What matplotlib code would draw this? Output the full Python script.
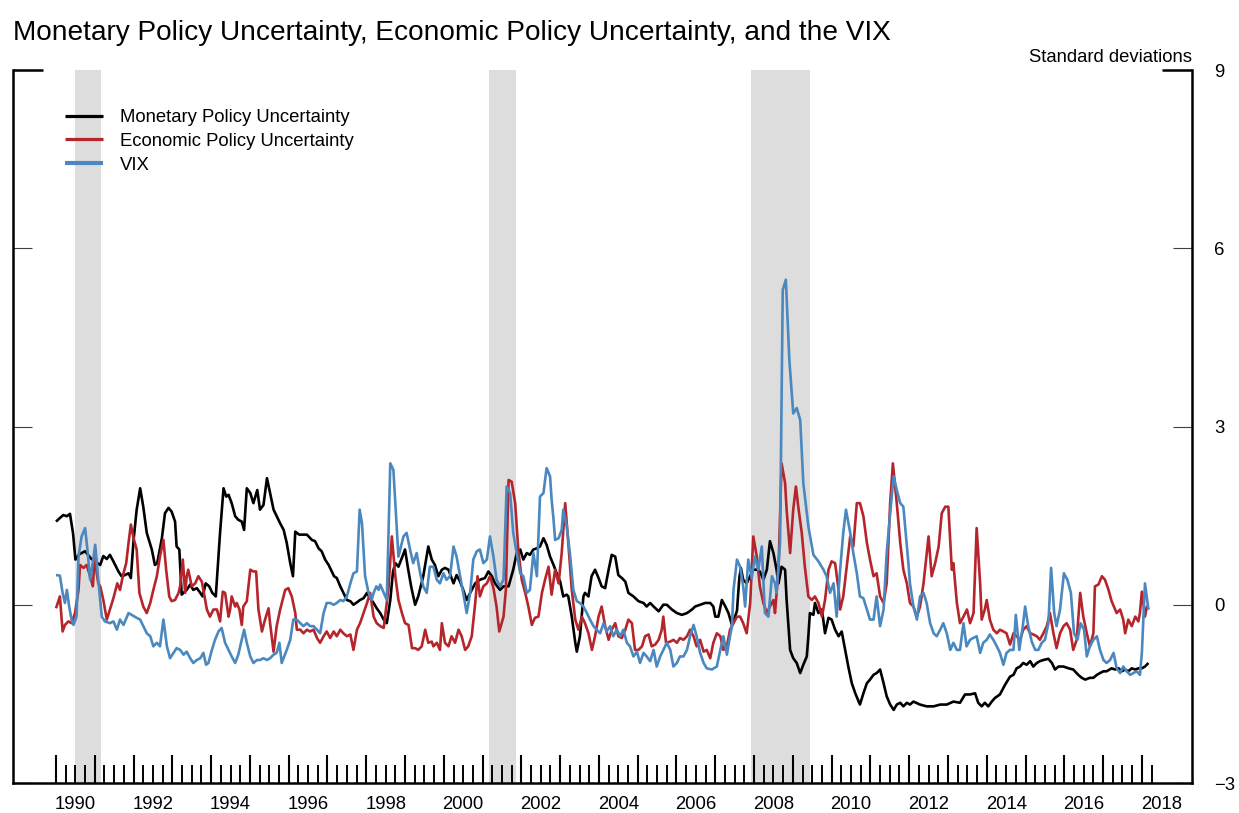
import matplotlib
matplotlib.use("Agg")
import matplotlib.pyplot as plt
import numpy as np

plt.rcParams['font.family'] = ['Liberation Sans', 'DejaVu Sans']

# ---------------- data ----------------
title = "Monetary Policy Uncertainty, Economic Policy Uncertainty, and the VIX"
unit_label = "Standard deviations"
series_names = ["Monetary Policy Uncertainty", "Economic Policy Uncertainty", "VIX"]
series_colors = ["#000000", "#b5252b", "#4a88bf"]
recessions = [(1990.50, 1991.17), (2001.17, 2001.86), (2007.92, 2009.44)]
year_labels = [1990, 1992, 1994, 1996, 1998, 2000, 2002, 2004, 2006, 2008,
               2010, 2012, 2014, 2016, 2018]
y_ticks = [-3, 0, 3, 6, 9]
y_tick_labels = ["\u22123", "0", "3", "6", "9"]

# (decimal year, standard deviations)
mpu = [
    (1990.00, 1.40), (1990.10, 1.46), (1990.19, 1.51), (1990.28, 1.49), (1990.36, 1.53),
    (1990.44, 1.20), (1990.50, 0.76), (1990.60, 0.85), (1990.75, 0.90), (1990.90, 0.78),
    (1991.02, 0.72), (1991.14, 0.67), (1991.22, 0.82), (1991.31, 0.77), (1991.39, 0.84),
    (1991.48, 0.73), (1991.61, 0.56), (1991.69, 0.48), (1991.78, 0.50), (1991.87, 0.53),
    (1991.93, 0.45), (1992.00, 1.09), (1992.08, 1.60), (1992.17, 1.96), (1992.25, 1.65),
    (1992.34, 1.21), (1992.47, 0.93), (1992.55, 0.67), (1992.61, 0.70), (1992.73, 1.12),
    (1992.81, 1.54), (1992.90, 1.63), (1992.98, 1.57), (1993.07, 1.40), (1993.11, 0.98),
    (1993.18, 0.93), (1993.24, 0.17), (1993.29, 0.20), (1993.37, 0.25), (1993.46, 0.34),
    (1993.54, 0.25), (1993.63, 0.28), (1993.72, 0.20), (1993.78, 0.14), (1993.86, 0.36),
    (1993.95, 0.31), (1994.03, 0.20), (1994.12, 0.14), (1994.23, 1.21), (1994.32, 1.96),
    (1994.39, 1.82), (1994.45, 1.85), (1994.53, 1.71), (1994.62, 1.49), (1994.70, 1.43),
    (1994.79, 1.40), (1994.85, 1.26), (1994.92, 1.96), (1995.01, 1.88), (1995.09, 1.71),
    (1995.19, 1.93), (1995.26, 1.60), (1995.35, 1.68), (1995.44, 2.13), (1995.52, 1.88),
    (1995.61, 1.60), (1995.69, 1.49), (1995.78, 1.37), (1995.87, 1.26), (1995.95, 1.04),
    (1996.04, 0.70), (1996.11, 0.48), (1996.17, 1.23), (1996.27, 1.18), (1996.38, 1.18),
    (1996.47, 1.18), (1996.60, 1.09), (1996.68, 1.07), (1996.77, 0.95), (1996.85, 0.90),
    (1996.94, 0.76), (1997.03, 0.67), (1997.11, 0.56), (1997.17, 0.48), (1997.24, 0.45),
    (1997.33, 0.31), (1997.41, 0.20), (1997.50, 0.08), (1997.59, 0.06), (1997.67, 0.00),
    (1997.76, 0.04), (1997.84, 0.08), (1997.93, 0.11), (1998.02, 0.20), (1998.10, 0.11),
    (1998.19, 0.03), (1998.27, -0.06), (1998.36, -0.14), (1998.45, -0.25), (1998.53, -0.31),
    (1998.62, 0.08), (1998.69, 0.56), (1998.75, 0.70), (1998.83, 0.64), (1998.92, 0.79),
    (1999.00, 0.93), (1999.08, 0.60), (1999.16, 0.30), (1999.26, 0.00), (1999.34, 0.14),
    (1999.47, 0.48), (1999.60, 0.98), (1999.69, 0.76), (1999.77, 0.67), (1999.86, 0.48),
    (1999.95, 0.59), (2000.03, 0.62), (2000.12, 0.59), (2000.25, 0.36), (2000.33, 0.50),
    (2000.42, 0.39), (2000.50, 0.25), (2000.59, 0.08), (2000.68, 0.20), (2000.81, 0.36),
    (2000.93, 0.42), (2001.06, 0.45), (2001.15, 0.56), (2001.24, 0.48), (2001.32, 0.36),
    (2001.45, 0.25), (2001.54, 0.31), (2001.67, 0.31), (2001.79, 0.59), (2001.88, 0.87),
    (2001.97, 0.93), (2002.05, 0.76), (2002.14, 0.87), (2002.22, 0.84), (2002.31, 0.93),
    (2002.40, 0.95), (2002.48, 0.98), (2002.57, 1.12), (2002.65, 1.01), (2002.74, 0.81),
    (2002.83, 0.67), (2002.91, 0.53), (2003.00, 0.39), (2003.08, 0.14), (2003.17, 0.17),
    (2003.21, 0.14), (2003.30, -0.20), (2003.39, -0.64), (2003.43, -0.79), (2003.51, -0.53),
    (2003.60, 0.14), (2003.64, 0.20), (2003.73, 0.14), (2003.81, 0.48), (2003.90, 0.59),
    (2003.99, 0.45), (2004.07, 0.31), (2004.16, 0.28), (2004.25, 0.59), (2004.33, 0.84),
    (2004.42, 0.81), (2004.50, 0.50), (2004.59, 0.45), (2004.68, 0.39), (2004.76, 0.20),
    (2004.89, 0.14), (2005.02, 0.06), (2005.15, 0.03), (2005.23, -0.03), (2005.32, 0.03),
    (2005.41, -0.03), (2005.54, -0.11), (2005.66, 0.00), (2005.75, 0.00), (2005.88, -0.08),
    (2006.01, -0.14), (2006.14, -0.17), (2006.27, -0.14), (2006.40, -0.08), (2006.48, -0.03),
    (2006.61, 0.00), (2006.74, 0.03), (2006.87, 0.03), (2006.95, -0.03), (2007.00, -0.20),
    (2007.08, -0.20), (2007.17, 0.08), (2007.26, -0.03), (2007.34, -0.14), (2007.43, -0.34),
    (2007.51, -0.20), (2007.56, -0.10), (2007.62, 0.45), (2007.66, 0.62), (2007.72, 0.42),
    (2007.81, 0.36), (2007.90, 0.48), (2007.98, 0.59), (2008.07, 0.59), (2008.15, 0.56),
    (2008.24, 0.42), (2008.33, 0.59), (2008.41, 1.07), (2008.50, 0.87), (2008.58, 0.59),
    (2008.63, 0.36), (2008.71, 0.64), (2008.80, 0.59), (2008.84, 0.08), (2008.93, -0.76),
    (2009.01, -0.90), (2009.10, -0.98), (2009.19, -1.15), (2009.27, -1.01), (2009.36, -0.87),
    (2009.40, -0.53), (2009.44, -0.14), (2009.53, -0.17), (2009.57, 0.03), (2009.66, -0.14),
    (2009.75, -0.08), (2009.83, -0.48), (2009.92, -0.22), (2010.00, -0.25), (2010.09, -0.42),
    (2010.18, -0.53), (2010.26, -0.45), (2010.35, -0.76), (2010.43, -1.04), (2010.52, -1.32),
    (2010.61, -1.49), (2010.73, -1.68), (2010.82, -1.49), (2010.91, -1.32), (2010.99, -1.26),
    (2011.08, -1.18), (2011.16, -1.15), (2011.25, -1.09), (2011.34, -1.32), (2011.42, -1.54),
    (2011.51, -1.68), (2011.60, -1.77), (2011.68, -1.68), (2011.77, -1.65), (2011.85, -1.71),
    (2011.94, -1.65), (2012.02, -1.68), (2012.11, -1.63), (2012.28, -1.68), (2012.45, -1.71),
    (2012.63, -1.71), (2012.80, -1.68), (2012.97, -1.68), (2013.14, -1.63), (2013.31, -1.65),
    (2013.44, -1.51), (2013.57, -1.51), (2013.70, -1.49), (2013.78, -1.65), (2013.87, -1.71),
    (2013.95, -1.65), (2014.04, -1.71), (2014.13, -1.63), (2014.21, -1.57), (2014.34, -1.51),
    (2014.47, -1.35), (2014.60, -1.21), (2014.69, -1.18), (2014.77, -1.07), (2014.86, -1.04),
    (2014.94, -0.98), (2015.03, -1.01), (2015.12, -0.95), (2015.20, -1.04), (2015.29, -0.98),
    (2015.37, -0.95), (2015.46, -0.93), (2015.59, -0.91), (2015.68, -0.98), (2015.76, -1.09),
    (2015.85, -1.04), (2015.98, -1.04), (2016.11, -1.07), (2016.23, -1.09), (2016.36, -1.18),
    (2016.45, -1.23), (2016.54, -1.26), (2016.66, -1.23), (2016.75, -1.23), (2016.84, -1.18),
    (2016.92, -1.15), (2017.01, -1.12), (2017.09, -1.12), (2017.22, -1.07), (2017.31, -1.09),
    (2017.40, -1.07), (2017.48, -1.12), (2017.57, -1.09), (2017.65, -1.12), (2017.74, -1.07),
    (2017.83, -1.09), (2017.91, -1.07), (2018.00, -1.07), (2018.08, -1.04), (2018.17, -0.98),
]

epu = [
    (1990.00, -0.06), (1990.06, 0.06), (1990.10, 0.14), (1990.17, -0.45), (1990.23, -0.34),
    (1990.32, -0.28), (1990.40, -0.31), (1990.49, -0.14), (1990.58, 0.25), (1990.62, 0.67),
    (1990.71, 0.62), (1990.79, 0.67), (1990.88, 0.48), (1990.95, 0.31), (1991.01, 0.93),
    (1991.05, 0.53), (1991.09, 0.36), (1991.14, 0.31), (1991.22, 0.08), (1991.31, -0.25),
    (1991.39, -0.08), (1991.48, 0.11), (1991.58, 0.36), (1991.65, 0.25), (1991.74, 0.53),
    (1991.81, 0.70), (1991.87, 1.04), (1991.93, 1.35), (1992.00, 1.12), (1992.08, 0.93),
    (1992.15, 0.20), (1992.25, -0.03), (1992.34, -0.14), (1992.43, 0.03), (1992.51, 0.25),
    (1992.60, 0.48), (1992.68, 0.81), (1992.77, 1.09), (1992.84, 0.59), (1992.92, 0.14),
    (1992.98, 0.06), (1993.07, 0.08), (1993.16, 0.20), (1993.20, 0.31), (1993.27, 0.76),
    (1993.33, 0.20), (1993.37, 0.48), (1993.41, 0.59), (1993.50, 0.31), (1993.59, 0.36),
    (1993.67, 0.48), (1993.76, 0.39), (1993.80, 0.25), (1993.89, -0.08), (1993.97, -0.20),
    (1994.06, -0.08), (1994.15, -0.08), (1994.23, -0.28), (1994.30, 0.22), (1994.36, 0.20),
    (1994.45, -0.20), (1994.49, -0.08), (1994.53, 0.14), (1994.62, -0.03), (1994.66, 0.03),
    (1994.73, -0.08), (1994.79, -0.34), (1994.83, -0.03), (1994.92, 0.06), (1995.01, 0.59),
    (1995.09, 0.56), (1995.16, 0.56), (1995.22, -0.08), (1995.31, -0.45), (1995.39, -0.25),
    (1995.48, -0.06), (1995.52, -0.31), (1995.61, -0.79), (1995.69, -0.36), (1995.78, -0.08),
    (1995.91, 0.25), (1995.99, 0.28), (1996.08, 0.14), (1996.17, -0.14), (1996.21, -0.42),
    (1996.30, -0.42), (1996.38, -0.48), (1996.47, -0.42), (1996.55, -0.45), (1996.64, -0.42),
    (1996.73, -0.56), (1996.81, -0.64), (1996.90, -0.53), (1996.98, -0.45), (1997.07, -0.56),
    (1997.16, -0.45), (1997.24, -0.53), (1997.33, -0.42), (1997.41, -0.48), (1997.50, -0.53),
    (1997.59, -0.50), (1997.67, -0.76), (1997.76, -0.42), (1997.84, -0.31), (1997.93, -0.14),
    (1998.02, 0.03), (1998.10, 0.20), (1998.19, -0.20), (1998.27, -0.31), (1998.36, -0.36),
    (1998.45, -0.39), (1998.57, 0.25), (1998.66, 1.15), (1998.75, 0.48), (1998.83, 0.08),
    (1998.92, -0.14), (1999.00, -0.31), (1999.09, -0.34), (1999.18, -0.73), (1999.26, -0.73),
    (1999.34, -0.76), (1999.43, -0.70), (1999.52, -0.42), (1999.60, -0.64), (1999.69, -0.62),
    (1999.73, -0.70), (1999.82, -0.64), (1999.90, -0.76), (1999.95, -0.31), (2000.03, -0.64),
    (2000.12, -0.70), (2000.20, -0.53), (2000.29, -0.64), (2000.38, -0.42), (2000.46, -0.53),
    (2000.55, -0.76), (2000.63, -0.70), (2000.72, -0.53), (2000.81, 0.03), (2000.87, 0.48),
    (2000.93, 0.14), (2001.02, 0.31), (2001.11, 0.36), (2001.19, 0.48), (2001.28, 0.28),
    (2001.36, -0.03), (2001.43, -0.45), (2001.54, -0.20), (2001.60, 0.25), (2001.67, 2.10),
    (2001.75, 2.07), (2001.84, 1.71), (2001.92, 0.93), (2002.01, 0.42), (2002.10, 0.20),
    (2002.18, -0.03), (2002.27, -0.34), (2002.35, -0.22), (2002.44, -0.20), (2002.53, 0.20),
    (2002.61, 0.42), (2002.70, 0.64), (2002.78, 0.17), (2002.87, 0.59), (2002.96, 0.36),
    (2003.04, 0.87), (2003.13, 1.71), (2003.21, 1.04), (2003.30, 0.25), (2003.39, -0.25),
    (2003.47, -0.42), (2003.56, -0.20), (2003.64, -0.31), (2003.73, -0.48), (2003.82, -0.76),
    (2003.90, -0.53), (2003.99, -0.20), (2004.07, -0.03), (2004.16, -0.36), (2004.25, -0.59),
    (2004.33, -0.42), (2004.42, -0.31), (2004.50, -0.53), (2004.59, -0.56), (2004.68, -0.42),
    (2004.76, -0.25), (2004.85, -0.31), (2004.93, -0.76), (2005.02, -0.76), (2005.11, -0.70),
    (2005.19, -0.53), (2005.28, -0.50), (2005.36, -0.70), (2005.45, -0.67), (2005.54, -0.59),
    (2005.62, -0.42), (2005.66, -0.20), (2005.73, -0.64), (2005.84, -0.62), (2005.92, -0.59),
    (2006.01, -0.64), (2006.09, -0.56), (2006.18, -0.59), (2006.27, -0.53), (2006.35, -0.42),
    (2006.44, -0.53), (2006.52, -0.70), (2006.61, -0.59), (2006.70, -0.79), (2006.78, -0.76),
    (2006.87, -0.90), (2006.95, -0.64), (2007.04, -0.48), (2007.13, -0.53), (2007.21, -0.76),
    (2007.30, -0.70), (2007.38, -0.42), (2007.47, -0.31), (2007.56, -0.20), (2007.64, -0.20),
    (2007.72, -0.31), (2007.81, -0.48), (2007.90, 0.03), (2007.98, 1.15), (2008.07, 0.81),
    (2008.15, 0.31), (2008.24, 0.03), (2008.33, -0.14), (2008.41, -0.03), (2008.50, 0.08),
    (2008.54, -0.14), (2008.63, 0.59), (2008.71, 2.38), (2008.80, 2.05), (2008.84, 1.60),
    (2008.93, 0.87), (2009.01, 1.60), (2009.08, 1.99), (2009.14, 1.65), (2009.23, 1.21),
    (2009.31, 0.64), (2009.40, 0.14), (2009.49, 0.08), (2009.57, 0.14), (2009.66, 0.03),
    (2009.75, -0.20), (2009.83, 0.08), (2009.92, 0.59), (2010.00, 0.73), (2010.09, 0.70),
    (2010.18, 0.25), (2010.22, -0.08), (2010.30, 0.14), (2010.39, 0.64), (2010.48, 1.15),
    (2010.56, 0.98), (2010.65, 1.71), (2010.73, 1.71), (2010.82, 1.49), (2010.91, 1.04),
    (2010.99, 0.76), (2011.08, 0.48), (2011.16, 0.53), (2011.25, 0.14), (2011.34, 0.03),
    (2011.42, 0.36), (2011.51, 1.71), (2011.58, 2.38), (2011.68, 1.71), (2011.77, 1.04),
    (2011.85, 0.59), (2011.94, 0.36), (2012.02, 0.03), (2012.11, -0.03), (2012.20, -0.20),
    (2012.28, -0.03), (2012.37, 0.36), (2012.50, 1.15), (2012.58, 0.48), (2012.67, 0.70),
    (2012.76, 0.98), (2012.84, 1.54), (2012.93, 1.65), (2013.01, 1.65), (2013.10, 0.59),
    (2013.14, 0.70), (2013.23, 0.03), (2013.31, -0.31), (2013.40, -0.20), (2013.49, -0.08),
    (2013.57, -0.31), (2013.66, -0.14), (2013.74, 1.29), (2013.83, 0.36), (2013.87, -0.25),
    (2013.95, -0.08), (2014.00, 0.08), (2014.08, -0.25), (2014.17, -0.42), (2014.26, -0.48),
    (2014.34, -0.42), (2014.43, -0.45), (2014.51, -0.48), (2014.60, -0.67), (2014.69, -0.48),
    (2014.77, -0.53), (2014.86, -0.59), (2014.94, -0.42), (2015.03, -0.36), (2015.12, -0.48),
    (2015.20, -0.50), (2015.29, -0.53), (2015.37, -0.59), (2015.46, -0.48), (2015.55, -0.36),
    (2015.63, -0.14), (2015.72, -0.48), (2015.80, -0.73), (2015.89, -0.48), (2015.98, -0.36),
    (2016.06, -0.31), (2016.15, -0.42), (2016.23, -0.76), (2016.32, -0.59), (2016.41, 0.20),
    (2016.49, -0.20), (2016.58, -0.48), (2016.66, -0.70), (2016.75, -0.48), (2016.79, 0.31),
    (2016.88, 0.34), (2016.97, 0.48), (2017.05, 0.42), (2017.14, 0.25), (2017.22, 0.06),
    (2017.35, -0.14), (2017.44, -0.08), (2017.52, -0.25), (2017.57, -0.48), (2017.65, -0.25),
    (2017.74, -0.36), (2017.83, -0.20), (2017.91, -0.28), (2017.95, -0.14), (2018.00, 0.22),
    (2018.08, -0.20), (2018.13, -0.03), (2018.17, -0.08),
]

vix = [
    (1990.00, 0.50), (1990.10, 0.49), (1990.17, 0.20), (1990.23, 0.03), (1990.28, 0.25),
    (1990.34, -0.03), (1990.40, -0.25), (1990.45, -0.34), (1990.53, -0.20), (1990.58, 0.81),
    (1990.66, 1.15), (1990.75, 1.29), (1990.81, 0.93), (1990.88, 0.42), (1990.96, 0.76),
    (1991.01, 1.01), (1991.09, 0.42), (1991.18, -0.20), (1991.26, -0.28), (1991.39, -0.31),
    (1991.48, -0.28), (1991.57, -0.42), (1991.65, -0.25), (1991.74, -0.34), (1991.87, -0.14),
    (1991.95, -0.17), (1992.08, -0.22), (1992.17, -0.25), (1992.25, -0.36), (1992.34, -0.48),
    (1992.43, -0.53), (1992.51, -0.70), (1992.60, -0.64), (1992.68, -0.70), (1992.77, -0.25),
    (1992.86, -0.70), (1992.94, -0.90), (1993.03, -0.81), (1993.11, -0.73), (1993.20, -0.76),
    (1993.29, -0.84), (1993.37, -0.79), (1993.46, -0.90), (1993.54, -0.98), (1993.63, -0.93),
    (1993.72, -0.90), (1993.80, -0.81), (1993.87, -1.01), (1993.93, -0.98), (1994.02, -0.76),
    (1994.10, -0.59), (1994.19, -0.45), (1994.27, -0.39), (1994.36, -0.64), (1994.45, -0.76),
    (1994.53, -0.87), (1994.62, -0.98), (1994.70, -0.84), (1994.79, -0.59), (1994.85, -0.42),
    (1994.92, -0.64), (1995.01, -0.87), (1995.09, -0.98), (1995.18, -0.93), (1995.26, -0.93),
    (1995.35, -0.90), (1995.44, -0.93), (1995.52, -0.90), (1995.61, -0.84), (1995.69, -0.81),
    (1995.76, -0.64), (1995.82, -0.98), (1995.95, -0.76), (1996.04, -0.59), (1996.12, -0.25),
    (1996.21, -0.25), (1996.30, -0.31), (1996.38, -0.36), (1996.47, -0.31), (1996.55, -0.36),
    (1996.64, -0.36), (1996.73, -0.42), (1996.81, -0.48), (1996.90, -0.14), (1996.98, 0.03),
    (1997.07, 0.03), (1997.16, 0.00), (1997.24, 0.03), (1997.33, 0.08), (1997.41, 0.06),
    (1997.50, 0.14), (1997.59, 0.36), (1997.67, 0.53), (1997.76, 0.56), (1997.83, 1.60),
    (1997.89, 1.37), (1997.97, 0.48), (1998.06, 0.20), (1998.14, 0.08), (1998.19, 0.20),
    (1998.26, 0.31), (1998.32, 0.25), (1998.36, 0.34), (1998.45, 0.20), (1998.53, 0.08),
    (1998.62, 2.38), (1998.70, 2.27), (1998.77, 1.49), (1998.83, 0.81), (1998.96, 1.15),
    (1999.04, 1.21), (1999.13, 0.93), (1999.21, 0.70), (1999.30, 0.87), (1999.39, 0.53),
    (1999.47, 0.31), (1999.56, 0.20), (1999.64, 0.64), (1999.73, 0.64), (1999.82, 0.42),
    (1999.90, 0.36), (1999.99, 0.53), (2000.07, 0.42), (2000.16, 0.48), (2000.25, 0.98),
    (2000.33, 0.81), (2000.42, 0.48), (2000.50, 0.20), (2000.59, -0.14), (2000.68, 0.20),
    (2000.76, 0.76), (2000.85, 0.90), (2000.93, 0.93), (2001.02, 0.70), (2001.11, 0.76),
    (2001.19, 1.15), (2001.28, 0.81), (2001.36, 0.42), (2001.45, 0.31), (2001.54, 0.42),
    (2001.62, 1.99), (2001.71, 1.88), (2001.79, 1.21), (2001.88, 0.87), (2001.97, 0.53),
    (2002.05, 0.48), (2002.14, 0.20), (2002.22, 0.25), (2002.31, 0.87), (2002.40, 0.48),
    (2002.48, 1.82), (2002.57, 1.88), (2002.65, 2.30), (2002.74, 2.16), (2002.78, 1.77),
    (2002.83, 1.43), (2002.87, 1.09), (2002.96, 1.12), (2003.04, 1.26), (2003.08, 1.60),
    (2003.17, 1.32), (2003.26, 0.81), (2003.34, 0.25), (2003.43, 0.06), (2003.51, 0.03),
    (2003.60, -0.03), (2003.69, -0.14), (2003.77, -0.25), (2003.86, -0.36), (2003.94, -0.42),
    (2004.03, -0.48), (2004.12, -0.31), (2004.20, -0.45), (2004.29, -0.36), (2004.37, -0.53),
    (2004.46, -0.42), (2004.55, -0.53), (2004.63, -0.42), (2004.72, -0.64), (2004.80, -0.70),
    (2004.89, -0.87), (2004.98, -0.79), (2005.06, -0.98), (2005.15, -0.81), (2005.23, -0.87),
    (2005.32, -0.95), (2005.41, -0.76), (2005.49, -1.04), (2005.58, -0.87), (2005.66, -0.76),
    (2005.75, -0.64), (2005.84, -0.76), (2005.92, -1.04), (2006.01, -0.98), (2006.09, -0.87),
    (2006.18, -0.87), (2006.27, -0.76), (2006.35, -0.53), (2006.44, -0.34), (2006.52, -0.53),
    (2006.61, -0.81), (2006.70, -0.98), (2006.78, -1.07), (2006.91, -1.09), (2007.04, -1.04),
    (2007.13, -0.76), (2007.21, -0.53), (2007.30, -0.84), (2007.38, -0.53), (2007.43, -0.36),
    (2007.47, 0.25), (2007.56, 0.76), (2007.64, 0.64), (2007.72, 0.31), (2007.77, -0.03),
    (2007.85, 0.76), (2007.94, 0.45), (2008.02, 0.81), (2008.11, 0.59), (2008.20, 0.98),
    (2008.28, -0.14), (2008.37, -0.20), (2008.46, 0.48), (2008.54, 0.36), (2008.58, 0.20),
    (2008.67, 1.04), (2008.74, 5.30), (2008.82, 5.47), (2008.91, 4.12), (2009.01, 3.22),
    (2009.10, 3.31), (2009.19, 3.11), (2009.27, 2.05), (2009.40, 1.32), (2009.53, 0.84),
    (2009.66, 0.73), (2009.79, 0.59), (2009.87, 0.48), (2009.96, 0.20), (2010.05, 0.36),
    (2010.13, -0.20), (2010.22, 0.59), (2010.30, 1.21), (2010.37, 1.60), (2010.48, 1.21),
    (2010.56, 0.87), (2010.65, 0.53), (2010.73, 0.14), (2010.82, 0.11), (2010.91, -0.08),
    (2010.99, -0.25), (2011.08, -0.25), (2011.16, 0.14), (2011.25, -0.36), (2011.34, -0.08),
    (2011.42, 0.87), (2011.51, 1.54), (2011.60, 2.16), (2011.68, 1.93), (2011.77, 1.71),
    (2011.85, 1.65), (2011.94, 0.98), (2011.98, 0.70), (2012.02, 0.36), (2012.11, -0.03),
    (2012.20, -0.25), (2012.28, 0.14), (2012.37, 0.20), (2012.45, 0.03), (2012.54, -0.31),
    (2012.63, -0.48), (2012.71, -0.53), (2012.80, -0.42), (2012.88, -0.31), (2012.97, -0.48),
    (2013.06, -0.76), (2013.14, -0.64), (2013.23, -0.76), (2013.31, -0.76), (2013.40, -0.31),
    (2013.48, -0.70), (2013.57, -0.59), (2013.65, -0.56), (2013.74, -0.53), (2013.83, -0.81),
    (2013.91, -0.64), (2014.00, -0.59), (2014.08, -0.50), (2014.17, -0.59), (2014.26, -0.70),
    (2014.34, -0.81), (2014.43, -1.01), (2014.51, -0.81), (2014.60, -0.76), (2014.69, -0.76),
    (2014.75, -0.17), (2014.84, -0.76), (2014.93, -0.36), (2014.99, -0.03), (2015.07, -0.36),
    (2015.16, -0.62), (2015.25, -0.76), (2015.33, -0.76), (2015.42, -0.64), (2015.50, -0.59),
    (2015.59, -0.31), (2015.66, 0.62), (2015.74, -0.14), (2015.80, -0.36), (2015.89, -0.08),
    (2015.99, 0.53), (2016.08, 0.42), (2016.17, 0.20), (2016.25, -0.48), (2016.34, -0.59),
    (2016.42, -0.31), (2016.51, -0.42), (2016.58, -0.87), (2016.66, -0.70), (2016.75, -0.59),
    (2016.84, -0.53), (2016.92, -0.76), (2017.01, -0.93), (2017.09, -0.98), (2017.18, -0.93),
    (2017.27, -0.81), (2017.35, -1.07), (2017.44, -1.15), (2017.52, -1.04), (2017.61, -1.12),
    (2017.70, -1.18), (2017.78, -1.15), (2017.87, -1.12), (2017.95, -1.18), (2018.00, -0.81),
    (2018.08, 0.36), (2018.17, -0.08),
]

# ---------------- figure ----------------
W, H = 1239, 813
fig = plt.figure(figsize=(W / 100, H / 100), dpi=100)
ax = fig.add_axes([13 / W, (H - 783) / H, (1192 - 13) / W, (783 - 70) / H])
ax.set_xlim(1988.891, 2019.293)
ax.set_ylim(-3, 9)

for start, end in recessions:
    ax.axvspan(start, end, color="#dddddd", lw=0, zorder=0)

for data, name, col in zip([mpu, epu, vix], series_names, series_colors):
    t, v = zip(*data)
    ax.plot(t, v, color=col, lw=1.9, label=name, zorder=2,
            solid_joinstyle="round", solid_capstyle="butt")

# spines
ax.spines["top"].set_visible(False)
for side in ["left", "right", "bottom"]:
    ax.spines[side].set_linewidth(1.8)
# corner brackets at the top
bracket = 30 / 1179
ax.plot([0, bracket], [1, 1], transform=ax.transAxes, color="black", lw=1.8,
        clip_on=False, solid_capstyle="butt")
ax.plot([1 - bracket, 1], [1, 1], transform=ax.transAxes, color="black", lw=1.8,
        clip_on=False, solid_capstyle="butt")

# x ticks: years (major) and quarters (minor)
years = np.arange(1990, 2019)
quarters = [y + q for y in range(1990, 2019) for q in (0.25, 0.5, 0.75) if y + q <= 2018.25]
ax.set_xticks(years)
ax.set_xticks(quarters, minor=True)
ax.tick_params(axis="x", which="major", direction="in", length=20, width=1.5,
               labelbottom=False, top=False)
ax.tick_params(axis="x", which="minor", direction="in", length=13, width=1.4, top=False)

sec = ax.secondary_xaxis("bottom")
sec.set_xticks([y + 0.5 for y in year_labels], labels=[str(y) for y in year_labels])
sec.tick_params(length=0, pad=9, labelsize=13.3)
sec.spines["bottom"].set_visible(False)

# y ticks
ax.set_yticks(y_ticks)
ax.set_yticklabels(y_tick_labels)
ax.tick_params(axis="y", direction="in", length=13.7, width=0.8, color="#404040",
               left=True, right=True, labelleft=False, labelright=True, pad=16,
               labelsize=13.3)

leg = ax.legend(loc="upper left", bbox_to_anchor=(0.0441, 0.945), frameon=False,
                fontsize=13.3, handlelength=2.05, handletextpad=0.92, labelspacing=0.36,
                borderpad=0, borderaxespad=0)
for line, lw in zip(leg.get_lines(), [2.3, 2.3, 3.0]):
    line.set_linewidth(lw)

fig.text(13 / W, 1 - 40 / H, title, fontsize=20.2, ha="left", va="baseline")
fig.text(1192 / W, 1 - 62 / H, unit_label, fontsize=13.3, ha="right", va="baseline")

fig.savefig("out.png", dpi=100)
